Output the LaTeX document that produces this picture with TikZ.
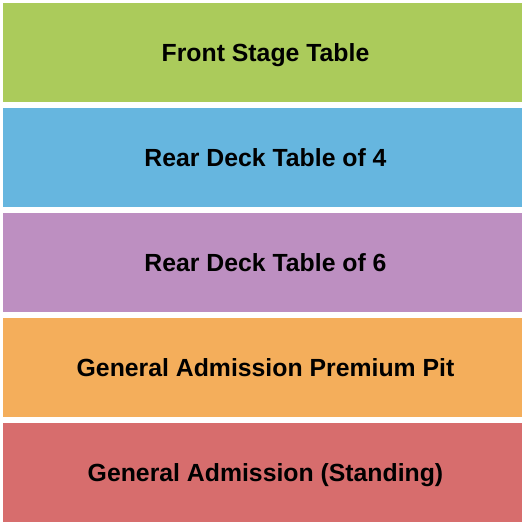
\documentclass[tikz,border=0pt]{standalone}
\usepackage{fontspec}
\setmainfont{Liberation Sans}
\definecolor{stagegreen}{RGB}{171,203,91}
\definecolor{deckblue}{RGB}{102,182,223}
\definecolor{deckpurple}{RGB}{189,143,193}
\definecolor{pitorange}{RGB}{244,174,91}
\definecolor{standred}{RGB}{215,109,109}
\tikzset{
  section/.style={rectangle, inner sep=0pt, minimum width=259.5pt, minimum height=49.5pt,
    font=\fontsize{12.4}{14}\selectfont\bfseries, text height=8.9pt, text depth=0pt,
    execute at begin node=\hspace{3pt}}
}
\begin{document}
\begin{tikzpicture}[x=0.5pt, y=-0.5pt]
    \useasboundingbox (0,0) rectangle (525,525);

    \node[section, fill=stagegreen] (front) at (262.5,52.5) {Front Stage Table};
    \node[section, fill=deckblue] (deck4) at (262.5,157.5) {Rear Deck Table of 4};
    \node[section, fill=deckpurple] (deck6) at (262.5,262.5) {Rear Deck Table of 6};
    \node[section, fill=pitorange] (pit) at (262.5,367.5) {General Admission Premium Pit};
    \node[section, fill=standred] (ga) at (262.5,472.5) {General Admission (Standing)};
  \end{tikzpicture}
\end{document}
